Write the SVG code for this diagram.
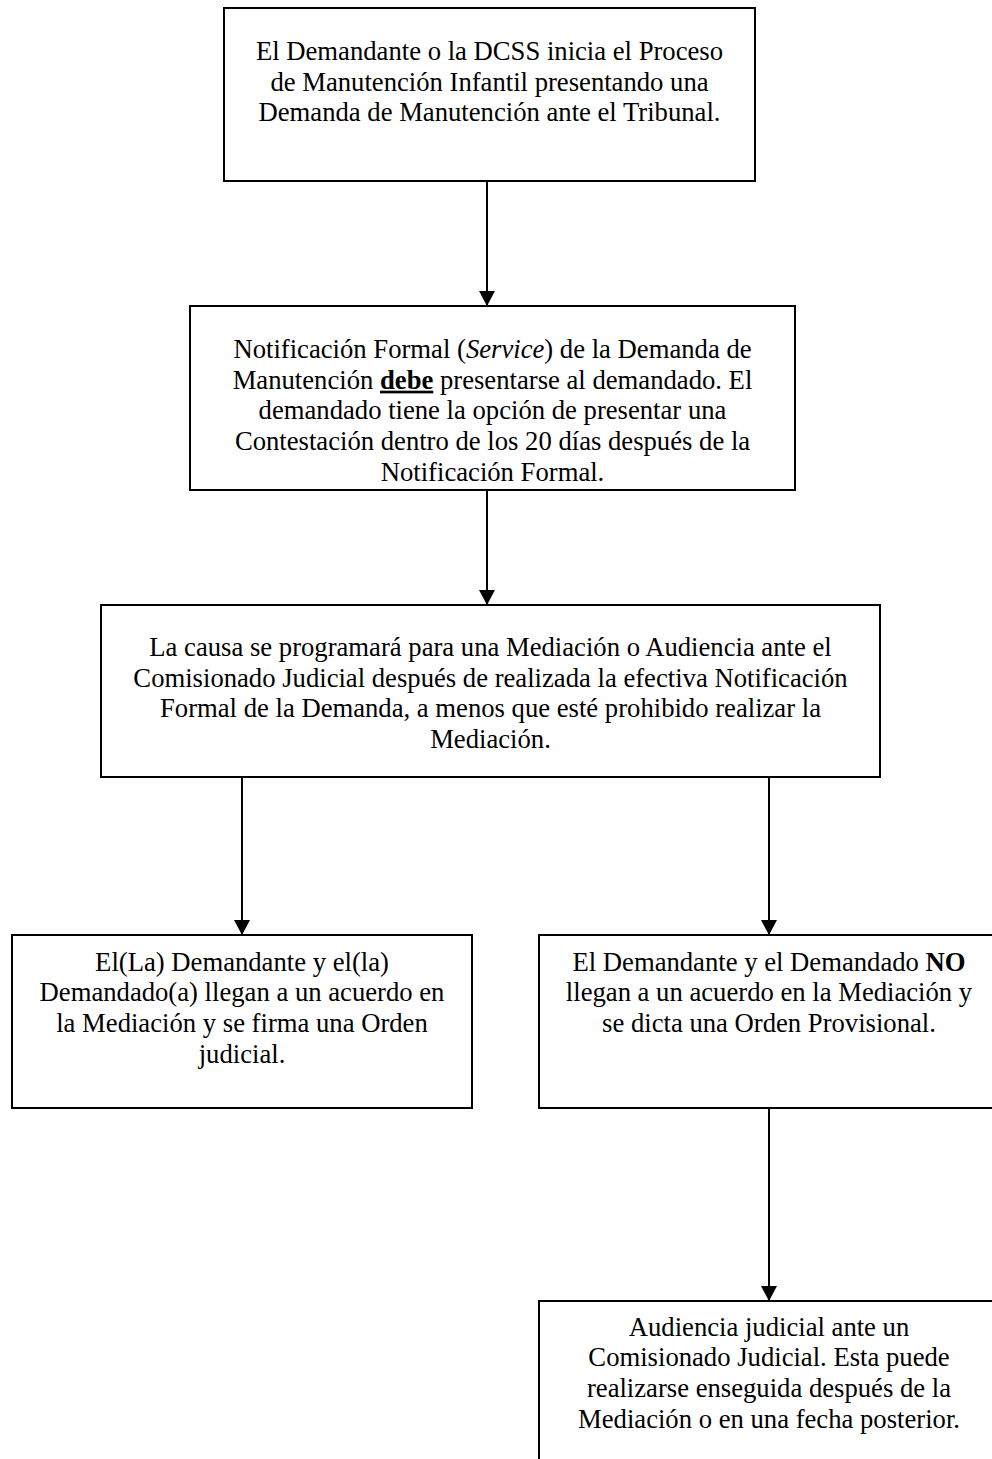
<svg xmlns="http://www.w3.org/2000/svg" width="992" height="1459" viewBox="0 0 992 1459">
<style>
  .box { fill: #ffffff; stroke: #000000; stroke-width: 2; }
  .t { font-family: "Liberation Serif", "Times New Roman", serif; font-size: 26.67px; fill: #000000; text-anchor: middle; }
  .conn { stroke: #000000; stroke-width: 2; fill: none; marker-end: url(#arrow); }
  .b { font-weight: bold; }
  .i { font-style: italic; }
  .u { text-decoration: underline; }
</style>
<defs>
  <marker id="arrow" markerUnits="userSpaceOnUse" markerWidth="15" markerHeight="16" viewBox="0 0 15 16" refX="15" refY="8" orient="auto">
    <path d="M0,0 L15,8 L0,16 Z" fill="#000000"/>
  </marker>
</defs>
<rect x="0" y="0" width="992" height="1459" fill="#ffffff"/>
<g id="connectors">
  <line class="conn" x1="487" y1="181" x2="487" y2="306"/>
  <line class="conn" x1="487" y1="490" x2="487" y2="605"/>
  <line class="conn" x1="242" y1="777" x2="242" y2="935"/>
  <line class="conn" x1="769" y1="777" x2="769" y2="935"/>
  <line class="conn" x1="769" y1="1108" x2="769" y2="1301"/>
</g>
<g id="node1">
  <rect class="box" x="224" y="8" width="531" height="173"/>
  <text class="t" x="489.5" y="60">El Demandante o la DCSS inicia el Proceso</text>
  <text class="t" x="489.5" y="90.7">de Manutención Infantil presentando una</text>
  <text class="t" x="489.5" y="121.3">Demanda de Manutención ante el Tribunal.</text>
</g>
<g id="node2">
  <rect class="box" x="190" y="306" width="605" height="184"/>
  <text class="t" x="492.5" y="358">Notificación Formal (<tspan class="i">Service</tspan>) de la Demanda de</text>
  <text class="t" x="492.5" y="388.7">Manutención <tspan class="b u">debe</tspan> presentarse al demandado. El</text>
  <text class="t" x="492.5" y="419.3">demandado tiene la opción de presentar una</text>
  <text class="t" x="492.5" y="450">Contestación dentro de los 20 días después de la</text>
  <text class="t" x="492.5" y="480.7">Notificación Formal.</text>
</g>
<g id="node3">
  <rect class="box" x="101" y="605" width="779" height="172"/>
  <text class="t" x="490.5" y="656">La causa se programará para una Mediación o Audiencia ante el</text>
  <text class="t" x="490.5" y="686.7">Comisionado Judicial después de realizada la efectiva Notificación</text>
  <text class="t" x="490.5" y="717.3">Formal de la Demanda, a menos que esté prohibido realizar la</text>
  <text class="t" x="490.5" y="748">Mediación.</text>
</g>
<g id="node4">
  <rect class="box" x="12" y="935" width="460" height="173"/>
  <text class="t" x="242" y="970.7">El(La) Demandante y el(la)</text>
  <text class="t" x="242" y="1001.3">Demandado(a) llegan a un acuerdo en</text>
  <text class="t" x="242" y="1032">la Mediación y se firma una Orden</text>
  <text class="t" x="242" y="1062.7">judicial.</text>
</g>
<g id="node5">
  <rect class="box" x="539" y="935" width="460" height="173"/>
  <text class="t" x="769" y="970.7">El Demandante y el Demandado <tspan class="b">NO</tspan></text>
  <text class="t" x="769" y="1001.3">llegan a un acuerdo en la Mediación y</text>
  <text class="t" x="769" y="1032">se dicta una Orden Provisional.</text>
</g>
<g id="node6">
  <rect class="box" x="539" y="1301" width="460" height="200"/>
  <text class="t" x="769" y="1335.7">Audiencia judicial ante un</text>
  <text class="t" x="769" y="1366.3">Comisionado Judicial. Esta puede</text>
  <text class="t" x="769" y="1397">realizarse enseguida después de la</text>
  <text class="t" x="769" y="1427.7">Mediación o en una fecha posterior.</text>
</g>
</svg>
